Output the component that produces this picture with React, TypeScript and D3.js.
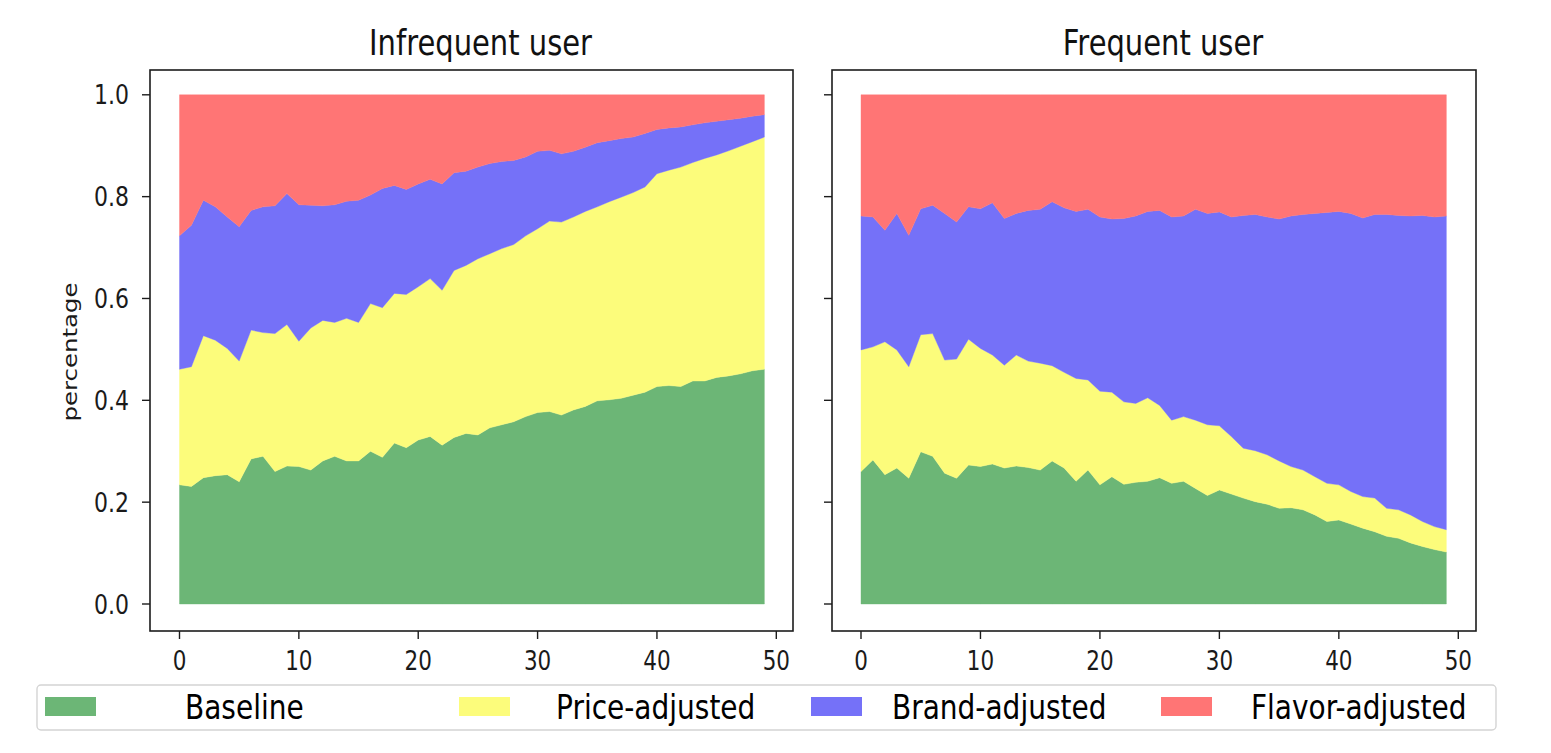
import React, { useEffect, useRef } from 'react';
import * as d3 from 'd3';

const layerKeys = ['baseline', 'price', 'brand', 'flavor'];
const layerNames = ['Baseline', 'Price-adjusted', 'Brand-adjusted', 'Flavor-adjusted'];
const layerColors = ['#6cb676', '#fcfc7b', '#7571f8', '#ff7575'];
const panelTitles = ['Infrequent user', 'Frequent user'];
const xTicks = [0, 10, 20, 30, 40, 50];
const yTicks = [0, 0.2, 0.4, 0.6, 0.8, 1.0];

// infrequent user shares, step 0..49
const infrequentBaseline = [
  0.234, 0.231, 0.248, 0.252, 0.254, 0.24, 0.285, 0.29, 0.26, 0.271,
  0.27, 0.263, 0.281, 0.29, 0.281, 0.281, 0.3, 0.288, 0.316, 0.307,
  0.322, 0.329, 0.312, 0.327, 0.335, 0.332, 0.346, 0.352, 0.358, 0.368,
  0.376, 0.378, 0.371, 0.381, 0.388, 0.399, 0.401, 0.404, 0.41, 0.416,
  0.427, 0.429, 0.427, 0.438, 0.438, 0.445, 0.448, 0.452, 0.458, 0.461,
];
const infrequentPrice = [
  0.227, 0.235, 0.279, 0.266, 0.248, 0.237, 0.253, 0.243, 0.271, 0.278,
  0.246, 0.279, 0.276, 0.263, 0.28, 0.272, 0.29, 0.294, 0.294, 0.301,
  0.301, 0.31, 0.304, 0.328, 0.33, 0.346, 0.342, 0.346, 0.348, 0.355,
  0.361, 0.374, 0.379, 0.379, 0.383, 0.381, 0.389, 0.395, 0.398, 0.403,
  0.418, 0.423, 0.431, 0.429, 0.437, 0.437, 0.442, 0.447, 0.45, 0.456,
];
const infrequentBrand = [
  0.262, 0.278, 0.266, 0.262, 0.258, 0.264, 0.235, 0.247, 0.251, 0.257,
  0.268, 0.241, 0.225, 0.231, 0.23, 0.24, 0.213, 0.234, 0.212, 0.206,
  0.202, 0.195, 0.209, 0.192, 0.185, 0.18, 0.177, 0.171, 0.165, 0.155,
  0.152, 0.139, 0.134, 0.129, 0.126, 0.126, 0.12, 0.115, 0.109, 0.105,
  0.087, 0.083, 0.079, 0.074, 0.07, 0.066, 0.061, 0.055, 0.05, 0.044,
];
const infrequentFlavor = [
  0.277, 0.256, 0.207, 0.22, 0.24, 0.259, 0.227, 0.22, 0.218, 0.194,
  0.216, 0.217, 0.218, 0.216, 0.209, 0.207, 0.197, 0.184, 0.178, 0.186,
  0.175, 0.166, 0.175, 0.153, 0.15, 0.142, 0.135, 0.131, 0.129, 0.122,
  0.111, 0.109, 0.116, 0.111, 0.103, 0.094, 0.09, 0.086, 0.083, 0.076,
  0.068, 0.065, 0.063, 0.059, 0.055, 0.052, 0.049, 0.046, 0.042, 0.039,
];

// frequent user shares, step 0..49
const frequentBaseline = [
  0.26, 0.283, 0.254, 0.267, 0.247, 0.299, 0.29, 0.257, 0.247, 0.273,
  0.27, 0.275, 0.267, 0.271, 0.268, 0.263, 0.281, 0.267, 0.241, 0.263,
  0.234, 0.25, 0.235, 0.239, 0.241, 0.248, 0.237, 0.241, 0.227, 0.213,
  0.224, 0.216, 0.208, 0.201, 0.196, 0.188, 0.189, 0.185, 0.175, 0.162,
  0.165, 0.157, 0.149, 0.142, 0.133, 0.129, 0.12, 0.113, 0.107, 0.102,
];
const frequentPrice = [
  0.239, 0.222, 0.261, 0.232, 0.219, 0.23, 0.241, 0.222, 0.234, 0.247,
  0.232, 0.214, 0.202, 0.218, 0.209, 0.21, 0.187, 0.188, 0.202, 0.177,
  0.184, 0.166, 0.162, 0.155, 0.164, 0.142, 0.124, 0.127, 0.134, 0.139,
  0.126, 0.113, 0.098, 0.1, 0.097, 0.093, 0.081, 0.078, 0.075, 0.075,
  0.069, 0.064, 0.062, 0.066, 0.055, 0.056, 0.055, 0.049, 0.045, 0.044,
];
const frequentBrand = [
  0.263, 0.255, 0.219, 0.268, 0.258, 0.247, 0.252, 0.288, 0.269, 0.26,
  0.274, 0.299, 0.288, 0.278, 0.296, 0.302, 0.322, 0.323, 0.328, 0.335,
  0.342, 0.34, 0.36, 0.368, 0.366, 0.383, 0.399, 0.394, 0.414, 0.415,
  0.42, 0.431, 0.457, 0.464, 0.467, 0.475, 0.492, 0.502, 0.517, 0.532,
  0.537, 0.546, 0.547, 0.557, 0.577, 0.578, 0.587, 0.601, 0.608, 0.616,
];
const frequentFlavor = [
  0.238, 0.24, 0.266, 0.233, 0.276, 0.224, 0.217, 0.233, 0.25, 0.22,
  0.224, 0.212, 0.243, 0.233, 0.227, 0.225, 0.21, 0.222, 0.229, 0.225,
  0.24, 0.244, 0.243, 0.238, 0.229, 0.227, 0.24, 0.238, 0.225, 0.233,
  0.23, 0.24, 0.237, 0.235, 0.24, 0.244, 0.238, 0.235, 0.233, 0.231,
  0.229, 0.233, 0.242, 0.235, 0.235, 0.237, 0.238, 0.237, 0.24, 0.238,
];

type Row = { step: number; [key: string]: number };

const toRows = (series: number[][]): Row[] =>
  series[0].map((_, i) => {
    const row: Row = { step: i };
    layerKeys.forEach((k, j) => (row[k] = series[j][i]));
    return row;
  });

const panels = [
  { title: panelTitles[0], rows: toRows([infrequentBaseline, infrequentPrice, infrequentBrand, infrequentFlavor]) },
  { title: panelTitles[1], rows: toRows([frequentBaseline, frequentPrice, frequentBrand, frequentFlavor]) },
];

// the picture is stretched vertically, so is the text
const STRETCH = 1.22;
const FONT = 'DejaVu Sans';

const App: React.FC = () => {
  const ref = useRef<SVGSVGElement | null>(null);

  useEffect(() => {
    if (!ref.current) return;
    const width = 1551;
    const height = 753;
    const frameTop = 70;
    const frameBottom = 631;
    const frames = [
      { left: 150, right: 793, x0: 179.5, x50: 776.3, titleX: 480.5 },
      { left: 832, right: 1476, x0: 861, x50: 1458.3, titleX: 1163 },
    ];

    const svg = d3.select(ref.current);
    svg.selectAll('*').remove();
    svg.attr('width', width).attr('height', height);

    svg.append('rect').attr('width', width).attr('height', height).attr('fill', '#fff');

    const y = d3.scaleLinear().domain([0, 1]).range([604, 94.8]);

    const stack = d3.stack<Row>().keys(layerKeys);

    panels.forEach((panel, p) => {
      const f = frames[p];
      const x = d3.scaleLinear().domain([0, 50]).range([f.x0, f.x50]);
      const g = svg.append('g');

      const area = d3
        .area<d3.SeriesPoint<Row>>()
        .x((d) => x(d.data.step))
        .y0((d) => y(d[0]))
        .y1((d) => y(d[1]));

      g.selectAll('path.layer')
        .data(stack(panel.rows))
        .enter()
        .append('path')
        .attr('class', 'layer')
        .attr('d', area)
        .attr('fill', (_, i) => layerColors[i])
        .attr('stroke', (_, i) => layerColors[i])
        .attr('stroke-width', 0.4);

      // frame
      g.append('rect')
        .attr('x', f.left)
        .attr('y', frameTop)
        .attr('width', f.right - f.left)
        .attr('height', frameBottom - frameTop)
        .attr('fill', 'none')
        .attr('stroke', '#1c1c1c')
        .attr('stroke-width', 1.6);

      // x ticks
      xTicks.forEach((t) => {
        g.append('line')
          .attr('x1', x(t))
          .attr('x2', x(t))
          .attr('y1', frameBottom)
          .attr('y2', frameBottom + 8)
          .attr('stroke', '#1c1c1c')
          .attr('stroke-width', 1.4);
        g.append('text')
          .attr('transform', `translate(${x(t)},670) scale(1,${STRETCH})`)
          .attr('text-anchor', 'middle')
          .attr('font-family', FONT)
          .attr('font-size', 21.5)
          .attr('fill', '#1a1a1a')
          .text(String(t));
      });

      // y ticks (labels only on the left panel)
      yTicks.forEach((t) => {
        g.append('line')
          .attr('x1', f.left - 8)
          .attr('x2', f.left)
          .attr('y1', y(t))
          .attr('y2', y(t))
          .attr('stroke', '#1c1c1c')
          .attr('stroke-width', 1.4);
        if (p === 0) {
          g.append('text')
            .attr('transform', `translate(${f.left - 21},${y(t)}) scale(1,${STRETCH})`)
            .attr('dy', '0.36em')
            .attr('text-anchor', 'end')
            .attr('font-family', FONT)
            .attr('font-size', 22)
            .attr('fill', '#1a1a1a')
            .text(d3.format('.1f')(t));
        }
      });

      g.append('text')
        .attr('transform', `translate(${f.titleX},55) scale(1,${STRETCH})`)
        .attr('text-anchor', 'middle')
        .attr('font-family', FONT)
        .attr('font-size', 29)
        .attr('fill', '#111')
        .text(panel.title);
    });

    svg
      .append('text')
      .attr('transform', `translate(70,352) scale(1,${STRETCH}) rotate(-90)`)
      .attr('dy', '0.36em')
      .attr('text-anchor', 'middle')
      .attr('font-family', FONT)
      .attr('font-size', 20)
      .attr('fill', '#1a1a1a')
      .text('percentage');

    // legend
    const legend = svg.append('g');
    legend
      .append('rect')
      .attr('x', 37)
      .attr('y', 685)
      .attr('width', 1459)
      .attr('height', 45)
      .attr('rx', 4)
      .attr('fill', '#fff')
      .attr('stroke', '#d4d4d4')
      .attr('stroke-width', 1.4);

    const swatchX = [45, 459, 811, 1161];
    const labelX = [185, 556, 892, 1251];
    layerNames.forEach((name, i) => {
      legend
        .append('rect')
        .attr('x', swatchX[i])
        .attr('y', 697)
        .attr('width', 51)
        .attr('height', 19)
        .attr('fill', layerColors[i]);
      legend
        .append('text')
        .attr('transform', `translate(${labelX[i]},719) scale(1,${STRETCH})`)
        .attr('font-family', FONT)
        .attr('font-size', 28)
        .attr('fill', '#000')
        .text(name);
    });
  }, []);

  return (
    <svg
      ref={ref}
      style={{ position: 'absolute', left: 0, top: 0, display: 'block' }}
    ></svg>
  );
};

export default App;
